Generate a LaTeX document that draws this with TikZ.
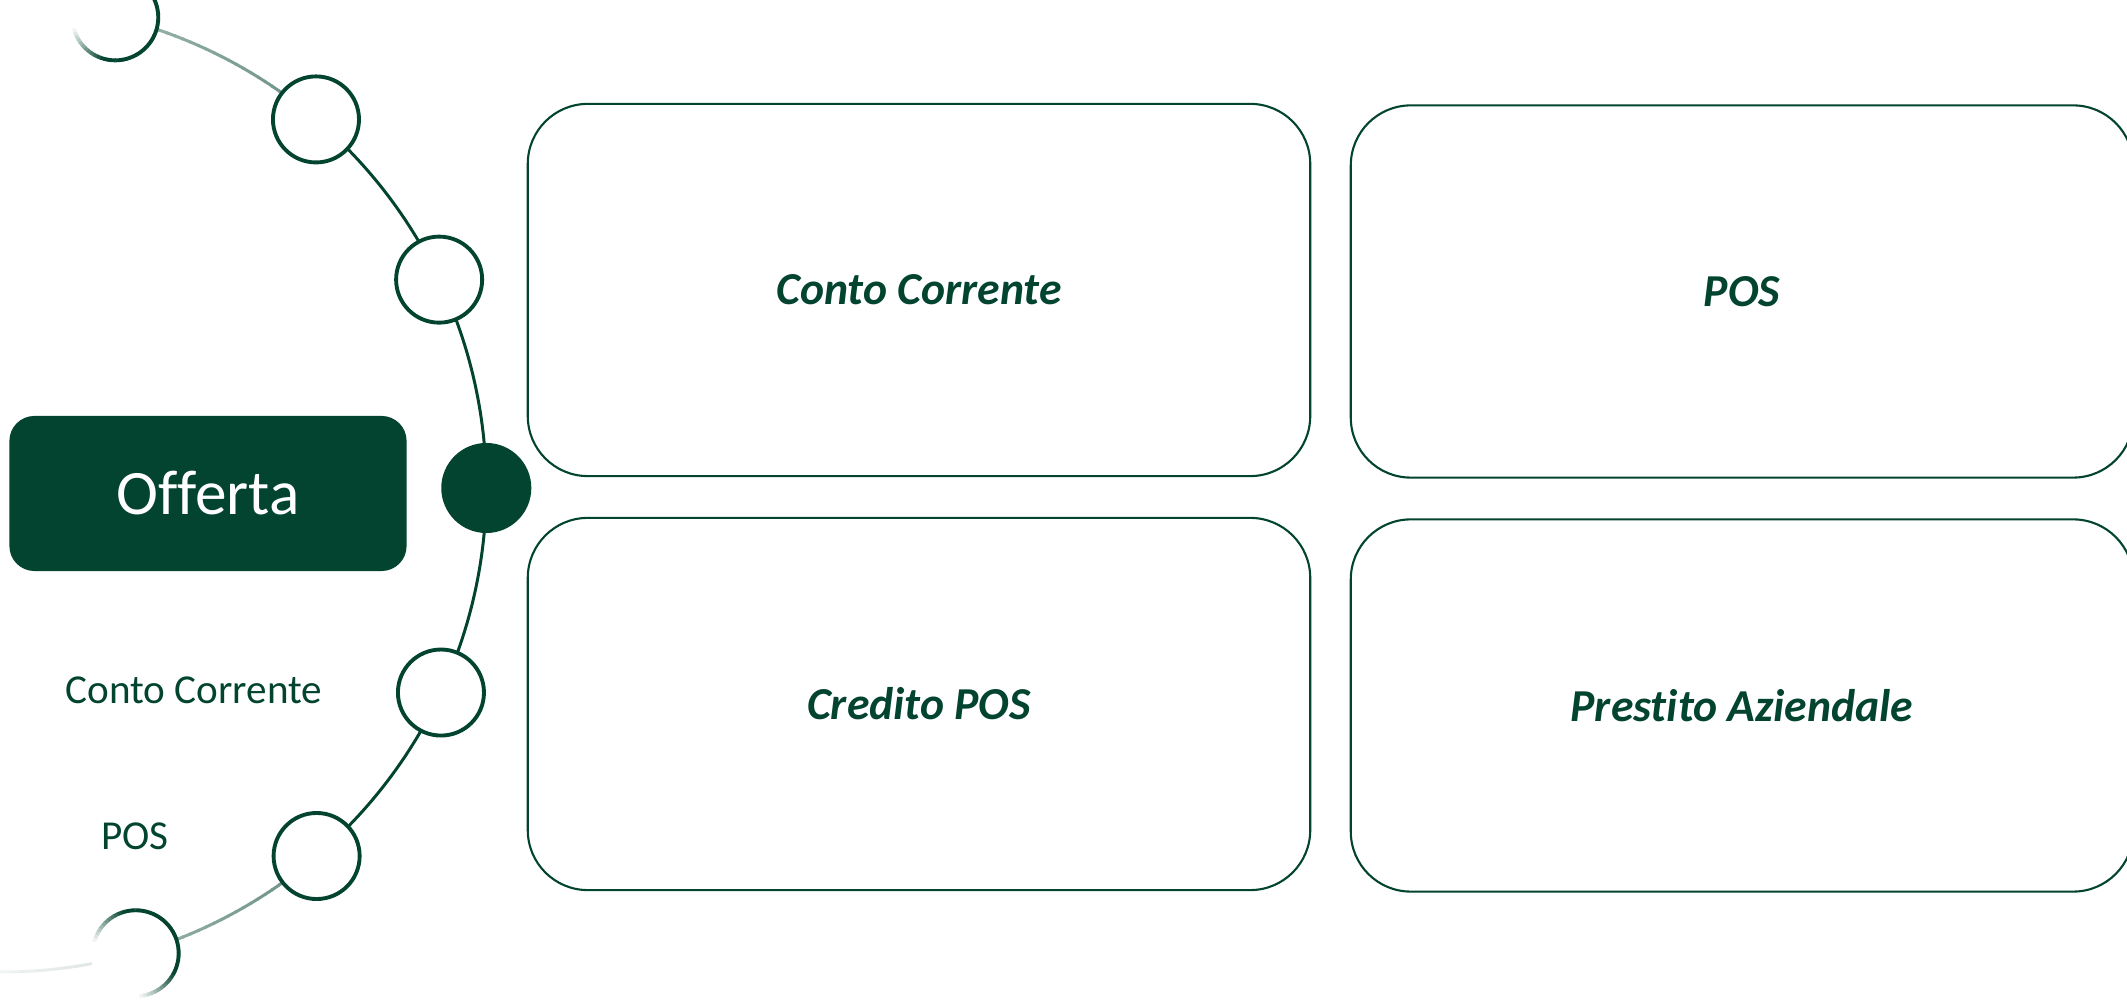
\documentclass[tikz,border=0pt]{standalone}
\usepackage{fontspec}
\setmainfont{Carlito}[Ligatures={NoCommon}]
\usetikzlibrary{calc}
\definecolor{dg}{HTML}{034430}
\begin{document}
\begin{tikzpicture}[x=0.01cm,y=0.01cm,
  ring/.style={circle, draw=none, fill=white, minimum size=0.86cm, inner sep=0pt},
  ringline/.style={line width=1.1pt},
  dot/.style={circle, fill=dg, draw=none, minimum size=0.90cm, inner sep=0pt},
  card/.style={draw=dg, line width=0.6pt, rounded corners=0.6cm, minimum width=7.82cm, minimum height=3.72cm, inner sep=0pt, text=dg, font=\fontsize{13}{15}\selectfont\bfseries\itshape},
  offer/.style={fill=dg, rounded corners=0.25cm, minimum width=3.97cm, minimum height=1.55cm, inner sep=0pt, text=white, font=\fontsize{18}{20}\selectfont},
  lbl/.style={text=dg, inner sep=0pt, font=\fontsize{11.7}{14}\selectfont}]
\useasboundingbox (0,0) rectangle (2127,1000);
\coordinate (O) at (2.3,512);
\def\R{484}
% main dark arc
\draw[dg, line width=0.85pt] ($(O)+(-49.5:\R)$) arc[start angle=-49.5, end angle=49.6, radius=\R];
% faded upper arc (between the two top circles)
\foreach \a in {49,...,75} {
  \pgfmathtruncatemacro\p{max(3,60-(\a-49)*0.75)}
  \draw[dg!\p, line width=0.85pt] ($(O)+(\a:\R)$) arc[start angle=\a, end angle=\a+1.2, radius=\R];
}
% faded lower arc
\foreach \a in {-50,...,-74} {
  \pgfmathtruncatemacro\p{60+(\a+50)*0.8}
  \draw[dg!\p, line width=0.85pt] ($(O)+(\a:\R)$) arc[start angle=\a, end angle=\a-1.2, radius=\R];
}
\foreach \a in {-74,...,-95} {
  \pgfmathtruncatemacro\p{max(3,16+(\a+74)*0.6)}
  \draw[dg!\p, line width=0.85pt] ($(O)+(\a:\R)$) arc[start angle=\a, end angle=\a-1.2, radius=\R];
}
% circles on the arc
\node[ring, draw=dg, ringline] (c2) at ($(O)+(49.6:\R)$) {};
\node[ring, draw=dg, ringline] (c3) at ($(O)+(25.5:\R)$) {};
\node[dot] (c4) at ($(O)+(0:\R)$) {};
\node[ring, draw=dg, ringline] (c5) at ($(O)+(-25:\R)$) {};
\node[ring, draw=dg, ringline] (c6) at ($(O)+(-49.5:\R)$) {};
\node[ring] (c1) at ($(O)+(76.5:\R)$) {};
\node[ring] (c7) at ($(O)+(-74:\R)$) {};
% faded outlines of the end circles
\foreach \a in {0,5,...,355} {
  \pgfmathtruncatemacro\p{max(0,min(100,100*(cos(\a+2.5+40)+0.6)))}
  \draw[dg!\p, ringline] ($(c1)+(\a:43)$) arc[start angle=\a, end angle=\a+5.5, radius=43];
  \pgfmathtruncatemacro\q{max(0,min(100,100*(cos(\a+2.5-40)+0.6)))}
  \draw[dg!\q, ringline] ($(c7)+(\a:43)$) arc[start angle=\a, end angle=\a+5.5, radius=43];
}
% left labels
\node[offer] (offerta) at (208,506.5) {Offerta};
\node[lbl] (lcc) at (194,310) {Conto Corrente};
\node[lbl] (lpos) at (135,164) {POS};
% cards
\node[card] (cc) at (919,710) {Conto Corrente};
\node[card] (pos) at (1742,708.5) {POS};
\node[card] (cpos) at (919,296) {Credito POS};
\node[card] (pa) at (1742,294.5) {Prestito Aziendale};
\end{tikzpicture}
\end{document}
